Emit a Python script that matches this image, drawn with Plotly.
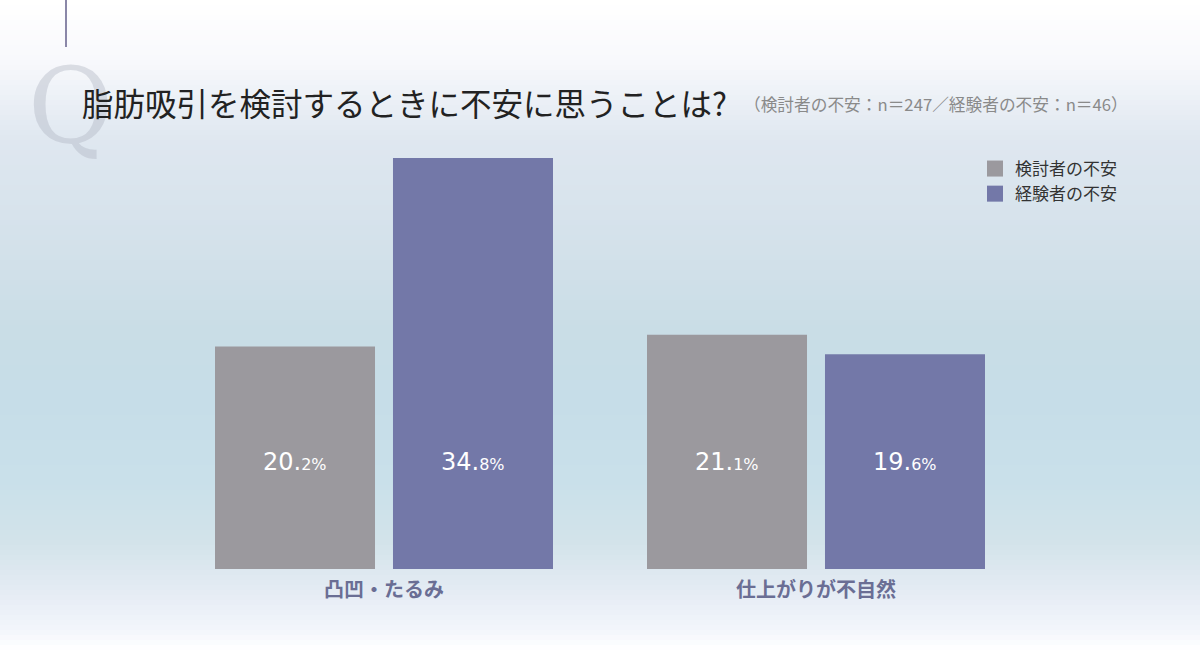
import plotly.graph_objects as go

categories = ["凸凹・たるみ", "仕上がりが不自然"]
series_names = ["検討者の不安", "経験者の不安"]
considering = [20.2, 21.1]
experienced = [34.8, 19.6]
title_text = "脂肪吸引を検討するときに不安に思うことは?"
subtitle_text = "（検討者の不安：n＝247／経験者の不安：n＝46）"

W, H = 1200, 650
M_L, M_R, M_T, M_B = 168, 168, 150, 81
PLOT_H = H - M_T - M_B
Y_RANGE = [2.95, 35.42]
LABEL_LEVEL = 11.24

GRAY = "#9b999e"
PURPLE = "#7378a8"

def py(p):
    return (H - p - M_B) / PLOT_H

def px(p):
    return (p - M_L) / (W - M_L - M_R)

def fmt(v):
    s = f"{v:.1f}"
    a, b = s.split(".")
    return f"{a}.<span style='font-size:16px'>{b}%</span>"

fig = go.Figure()
fig.add_trace(go.Bar(x=categories, y=considering, name=series_names[0],
                     marker=dict(color=GRAY, line=dict(width=0)), showlegend=False))
fig.add_trace(go.Bar(x=categories, y=experienced, name=series_names[1],
                     marker=dict(color=PURPLE, line=dict(width=0)), showlegend=False))
# legend proxies
for nm, col in zip(series_names, [GRAY, PURPLE]):
    fig.add_trace(go.Scatter(x=[None], y=[None], mode="markers", name=nm,
                             marker=dict(symbol="square", size=17, color=col)))

# background gradient
stops = [(0, (255, 255, 255)), (60, (248, 249, 252)), (140, (223, 231, 240)),
         (250, (211, 225, 234)), (330, (201, 221, 230)), (400, (198, 221, 232)),
         (480, (201, 224, 234)), (540, (210, 227, 234)), (590, (228, 235, 243)),
         (630, (243, 246, 252)), (650, (255, 255, 255))]

def col_at(y):
    for (y0, c0), (y1, c1) in zip(stops[:-1], stops[1:]):
        if y0 <= y <= y1:
            t = (y - y0) / (y1 - y0) if y1 > y0 else 0
            return "rgb(%d,%d,%d)" % tuple(round(c0[i] + (c1[i] - c0[i]) * t) for i in range(3))
    return "rgb(255,255,255)"

shapes = []
step = 5
for y in range(0, H, step):
    shapes.append(dict(type="rect", xref="paper", yref="paper", x0=px(0), x1=px(W),
                       y0=py(y + step), y1=py(y), fillcolor=col_at(y + step / 2),
                       line=dict(width=0), layer="below"))
# vertical accent line
shapes.append(dict(type="line", xref="paper", yref="paper", x0=px(66), x1=px(66),
                   y0=py(0), y1=py(47), line=dict(color="#8a87a8", width=2), layer="above"))

annotations = []
# big decorative Q
annotations.append(dict(text="Q", xref="paper", yref="paper", x=px(70), y=py(106),
                        xanchor="center", yanchor="middle", showarrow=False,
                        font=dict(family="DejaVu Serif", size=104, color="rgba(170,176,190,0.38)")))
annotations.append(dict(text=title_text, xref="paper", yref="paper", x=px(80), y=py(102),
                        xanchor="left", yanchor="middle", showarrow=False,
                        font=dict(family="Noto Sans CJK JP", size=31.5, color="#222222")))
annotations.append(dict(text=subtitle_text, xref="paper", yref="paper", x=px(742), y=py(104),
                        xanchor="left", yanchor="middle", showarrow=False,
                        font=dict(family="Noto Sans CJK JP", size=16.7, color="#8a8a8a")))
for cat, a, b in zip(categories, considering, experienced):
    for v, sh in ((a, -89), (b, 89)):
        annotations.append(dict(text=fmt(v), x=cat, y=LABEL_LEVEL, xref="x", yref="y",
                                xshift=sh, showarrow=False, xanchor="center", yanchor="middle",
                                font=dict(family="DejaVu Sans", size=24, color="white")))

fig.update_layout(
    width=W, height=H,
    margin=dict(l=M_L, r=M_R, t=M_T, b=M_B),
    paper_bgcolor="white", plot_bgcolor="rgba(0,0,0,0)",
    barmode="group", bargap=0.176, bargroupgap=0.101,
    shapes=shapes, annotations=annotations,
    legend=dict(x=px(975), y=py(151), xanchor="left", yanchor="top",
                bgcolor="rgba(0,0,0,0)", tracegroupgap=0, itemwidth=30,
                font=dict(family="Noto Sans CJK JP", size=17, color="#333333")),
    xaxis=dict(showgrid=False, showline=False, zeroline=False, ticks="",
               tickfont=dict(family="Noto Sans CJK JP", size=20, color="#6a6e94", weight="bold"),
               ticklabelstandoff=7),
    yaxis=dict(range=Y_RANGE, visible=False, showgrid=False, zeroline=False),
)

fig.write_html("out.html")
